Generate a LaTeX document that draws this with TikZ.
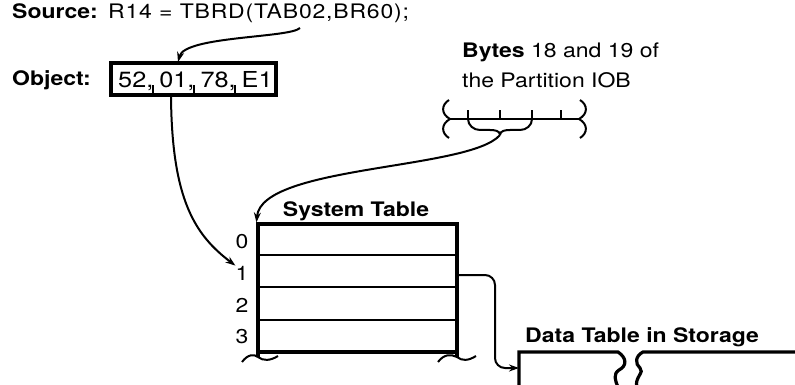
\documentclass[tikz,border=0pt]{standalone}
\usepackage{fontspec}
\setmainfont{TeX Gyre Heros}[FakeStretch=1.15]
\usetikzlibrary{arrows.meta}

\begin{document}
\begin{tikzpicture}[x=1pt,y=-1pt,
  txt/.style={anchor=base west,inner sep=0pt,font=\fontsize{20}{24}\selectfont},
  btxt/.style={txt,font=\fontsize{20}{24}\selectfont\bfseries},
  ptr/.style={line width=2pt,-{Stealth[length=10pt,width=7pt]}},
  frame/.style={line width=3.2pt},
  rule/.style={line width=2pt}]
\useasboundingbox (0,0) rectangle (795,385);

\node[btxt] (srclbl) at (12,19) {Source:};
\node[txt] (src) at (108,19) {\addfontfeature{LetterSpace=4}R14 = TBRD(TAB02,BR60);};
\node[btxt] (objlbl) at (12,86) {Object:};
\node[draw,frame,minimum width=165pt,minimum height=32pt,inner sep=0pt] (obj) at (193.5,79) {};
\node[txt,font=\fontsize{22}{26}\selectfont] (objtxt) at (118,88) {52,\hspace{6pt}01,\hspace{6pt}78,\hspace{6pt}E1};
\foreach \x in {152.5,193.5,234.5} \draw[rule] (\x,95) -- (\x,85);

\node[txt] (bytes) at (462,58) {\textbf{Bytes} 18 and 19 of};
\node[txt] (part) at (462,88) {the Partition IOB};
\draw[rule] (450,119) -- (579,119);
\foreach \x in {468,500,532,561} \draw[rule] (\x,119) -- (\x,110);
\draw[rule] (449,100) .. controls (441,105) and (441,114) .. (450,119) .. controls (441,124) and (441,133) .. (449,138);
\draw[rule] (580,100) .. controls (588,105) and (588,114) .. (579,119) .. controls (588,124) and (588,133) .. (580,138);
\draw[rule] (468,119) to[out=-90,in=180] (480,130) -- (490,130) to[out=0,in=90] (500,135);
\draw[rule] (532,119) to[out=-90,in=0] (520,130) -- (510,130) to[out=180,in=90] (500,135);
\coordinate (bk) at (500,135);

\node[btxt,anchor=base] (systlbl) at (356,216) {System Table};
\node[draw,frame,minimum width=199pt,minimum height=128pt,inner sep=0pt] (systab) at (357.5,288) {};
\foreach \y in {255,287,320} \draw[rule] (258,\y) -- (457,\y);
\foreach \i/\y in {0/248,1/280,2/312,3/343} \node[txt,anchor=base] (row\i) at (242,\y) {\i};
\draw[frame] (258,352) -- (258,357);
\draw[frame] (457,352) -- (457,357);
\draw[rule] (242,362) .. controls (248,354) and (254,354) .. (258,357) .. controls (263,361) and (270,361) .. (278,356);
\draw[rule] (438,362) .. controls (444,354) and (451,354) .. (457,357) .. controls (462,361) and (468,361) .. (476,356);

\node[btxt] (datalbl) at (525,342) {Data Table in Storage};
\draw[frame] (519,387) -- (519,352) -- (618,352) .. controls (627,358) and (627,366) .. (619,370) .. controls (613,374) and (615,380) .. (618,387);
\draw[frame] (797,352) -- (643,352) .. controls (635,356) and (635,364) .. (640,368) .. controls (645,372) and (634,378) .. (637,387);

\coordinate (tab) at (300,28);
\coordinate (objin) at (178,62);
\coordinate (objout) at (171,97);
\coordinate (r1) at (457,275);
\coordinate (datain) at (519,368);
\draw[ptr] (tab) .. controls (290,38) and (185,36) .. (objin);
\draw[ptr] (objout) .. controls (172,200) and (195,235) .. (row1.north west);
\draw[ptr] (bk) .. controls (470,170) and (262,165) .. (systab.north west);
\draw[ptr,rounded corners=10pt] (r1) -| (495,368) -- (datain);
\end{tikzpicture}
\end{document}
